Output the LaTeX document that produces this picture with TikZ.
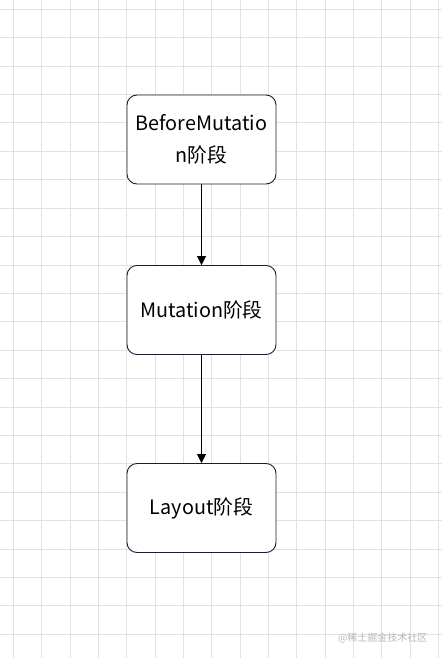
\documentclass[tikz,border=0pt]{standalone}
\usepackage{fontspec}
\setmainfont{Noto Sans CJK SC}
\usepackage{tikz}
\usetikzlibrary{positioning,arrows.meta}
\definecolor{gridc}{HTML}{E2E2E2}
\definecolor{boxline}{HTML}{1C1C30}
\definecolor{markc}{HTML}{B8B8B8}
\tikzset{
  gridline/.style={draw=gridc, line width=0.8pt},
  stagebox/.style={rectangle, rounded corners=10pt, draw=boxline, fill=white,
                   line width=0.9pt, minimum width=149pt, minimum height=89pt,
                   align=center, inner sep=2pt,
                   font=\fontsize{19.8}{32}\selectfont},
  % one step of the flow, box to box
  flow/.style={draw=black, line width=0.8pt,
               -{Triangle[length=9pt,width=9pt]}},
}
\begin{document}
\begin{tikzpicture}[x=1pt,y=-1pt]
\useasboundingbox (0,0) rectangle (442,658);
\fill[white] (0,0) rectangle (442,658);
% --- background grid ---
\foreach \i in {0,...,15} {\draw[gridline] ({13.3+28.33*\i},0) -- ++(0,658);}
\foreach \j in {0,...,23} {\draw[gridline] (0,{9.3+28.4*\j}) -- ++(442,0);}
% --- the three stages ---
\node[stagebox] (before) at (201.5,139.5) {BeforeMutatio\\n阶段};
\node[stagebox] (mutation) at (201.5,310) {Mutation阶段};
\node[stagebox] (layout) at (201.5,508) {Layout阶段};
\draw[flow] (before) -- (mutation);
\draw[flow] (mutation) -- (layout);
\node[markc, font=\fontsize{10}{12}\selectfont, anchor=east] (mark) at (431,638) {@稀土掘金技术社区};
\end{tikzpicture}
\end{document}
